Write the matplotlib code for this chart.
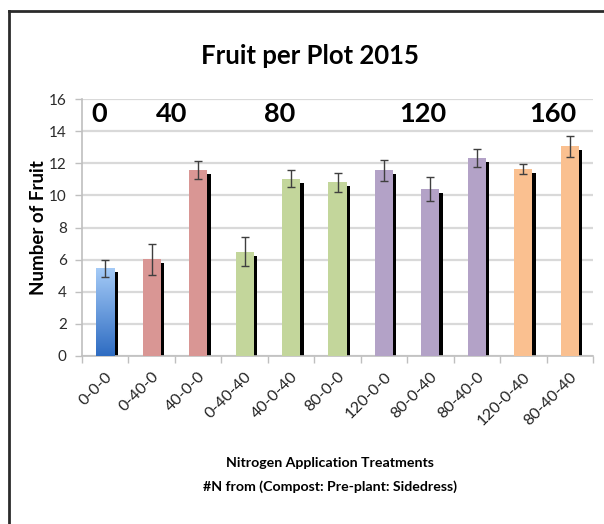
import matplotlib
matplotlib.use("Agg")
import matplotlib.pyplot as plt
import numpy as np
from matplotlib.lines import Line2D
from matplotlib.colors import LinearSegmentedColormap

categories = ["0-0-0", "0-40-0", "40-0-0", "0-40-40", "40-0-40", "80-0-0",
              "120-0-0", "80-0-40", "80-40-0", "120-0-40", "80-40-40"]
values = [5.45, 6.03, 11.6, 6.5, 11.05, 10.82, 11.58, 10.43, 12.32, 11.65, 13.08]
errors = [0.52, 0.97, 0.58, 0.9, 0.53, 0.6, 0.65, 0.75, 0.57, 0.32, 0.65]
groups = [0, 1, 1, 2, 2, 2, 3, 3, 3, 4, 4]
group_labels = ["0", "40", "80", "120", "160"]
group_colors = ["#5B9BE0", "#D99694", "#C3D69B", "#B3A2C7", "#FAC090"]
yticks = [0, 2, 4, 6, 8, 10, 12, 14, 16]

# layout
group_label_x = [-0.13, 1.42, 3.75, 6.83, 9.64]
FONT = ["Lato", "DejaVu Sans"]

fig = plt.figure(figsize=(6.04, 5.24), dpi=100)
ax = fig.add_axes([82 / 604, 1 - 355.7 / 524, (593 - 82) / 604, (355.7 - 99.3) / 524])

x = np.arange(len(categories))
bw = 0.39
for i, (v, g) in enumerate(zip(values, groups)):
    # shadow
    ax.bar(x[i] + 0.075, v - 0.25, width=bw, color="black", zorder=2)
    if g == 0:
        bars = ax.bar(x[i], v, width=bw, color="none", zorder=3)
        cmap = LinearSegmentedColormap.from_list("b", ["#2E6CC2", "#A5CBF7"])
        grad = np.linspace(0, 1, 256).reshape(-1, 1)
        im = ax.imshow(grad, cmap=cmap, origin="lower", aspect="auto",
                       extent=[x[i] - bw / 2, x[i] + bw / 2, 0, v], zorder=3)
        im.set_clip_path(bars[0])
    else:
        ax.bar(x[i], v, width=bw, color=group_colors[g], zorder=3)

ax.errorbar(x, values, yerr=errors, fmt="none", ecolor="#3F3F3F",
            elinewidth=1.0, capsize=3, capthick=1.0, zorder=4)

ax.set_xlim(-0.5, len(categories) - 0.5)
ax.set_ylim(0, 16)
ax.set_yticks(yticks)
ax.set_yticklabels([str(t) for t in yticks], fontfamily=FONT, fontsize=11,
                   color="#2B2B2B")
ax.yaxis.grid(True, color="#D9D9D9", linewidth=1.6, zorder=0)
ax.set_axisbelow(True)

ax.set_xticks(x)
ax.set_xticklabels(categories, rotation=45, ha="right", va="top",
                   rotation_mode="anchor", fontfamily=FONT, fontsize=11.5,
                   color="#222222")
ax.set_xticks(np.arange(-0.5, len(categories)), minor=True)
ax.tick_params(axis="x", which="major", length=0, pad=10)
ax.tick_params(axis="x", which="minor", length=5, color="#BFBFBF", width=1)
ax.tick_params(axis="y", length=5, color="#BFBFBF", width=1, pad=6)

for s in ["top", "right"]:
    ax.spines[s].set_visible(False)
for s in ["left", "bottom"]:
    ax.spines[s].set_color("#BFBFBF")
    ax.spines[s].set_linewidth(1.2)

for lbl, gx in zip(group_labels, group_label_x):
    ax.text(gx, 15.1, lbl, ha="center", va="center", fontfamily=FONT,
            fontweight="bold", fontsize=19.5, color="black", zorder=5)

ax.set_ylabel("Number of Fruit", fontfamily=FONT, fontweight="bold", fontsize=13.5)
ax.yaxis.set_label_coords((47 - 82) / 511, 0.5)

fig.text(310 / 604, 1 - 56 / 524, "Fruit per Plot 2015", ha="center", va="center",
         fontfamily=FONT, fontweight="bold", fontsize=18.5)
fig.text(330 / 604, 1 - 463 / 524, "Nitrogen Application Treatments",
         ha="center", va="center", fontfamily=FONT, fontweight="bold", fontsize=10.2)
fig.text(330 / 604, 1 - 487 / 524, "#N from (Compost: Pre-plant: Sidedress)",
         ha="center", va="center", fontfamily=FONT, fontweight="bold", fontsize=10.2)

# outer frame (top and left edges)
fig.add_artist(Line2D([8.5 / 604, 1.0], [1 - 10.5 / 524, 1 - 10.5 / 524],
                      transform=fig.transFigure, color="#2B2B2B", linewidth=2))
fig.add_artist(Line2D([8.5 / 604, 8.5 / 604], [0, 1 - 10.5 / 524],
                      transform=fig.transFigure, color="#2B2B2B", linewidth=2))

fig.savefig("out.png", dpi=100)
